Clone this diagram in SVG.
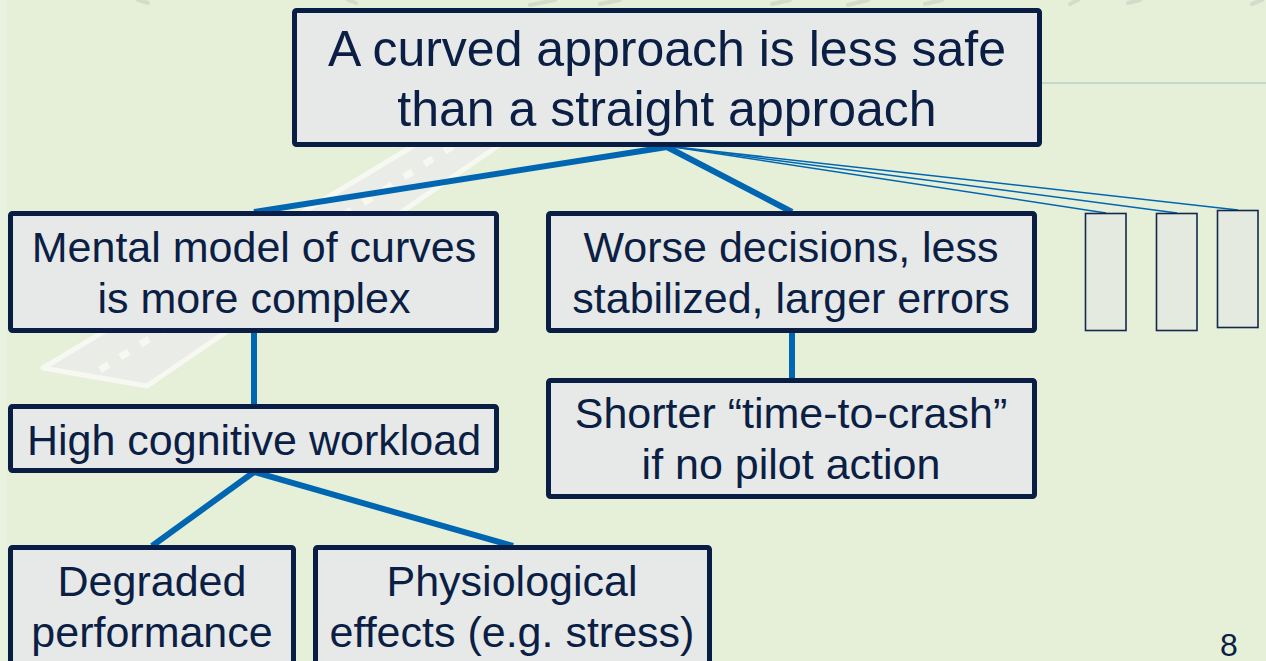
<svg xmlns="http://www.w3.org/2000/svg" width="1266" height="661" viewBox="0 0 1266 661">
  <style>
    .box { fill: #E7E8E8; stroke: #0A1E45; stroke-width: 5; }
    .stub { fill: #E4EADF; stroke: #14284B; stroke-width: 1.6; }
    .label { font-family: "Liberation Sans", Arial, sans-serif; fill: #0B1F45; text-anchor: middle; }
    .big { font-size: 50px; }
    .mid { font-size: 43px; }
    .link { stroke: #0066B2; stroke-width: 6; fill: none; stroke-linecap: butt; }
    .thin { stroke: #0066B2; stroke-width: 1.5; fill: none; }
  </style>

  <!-- slide background -->
  <rect x="0" y="0" width="1266" height="661" fill="#E6F0D9"/>
  <rect x="0" y="0" width="7" height="661" fill="#E9F2DE"/>

  <!-- faint runway artwork -->
  <g opacity="0.8">
    <polygon points="43,368 147,386 653,40 590,40" fill="#ECECEC" stroke="#FAFAF7" stroke-width="5" stroke-linejoin="round"/>
    <line x1="100" y1="370" x2="620" y2="40" stroke="#FAFAF7" stroke-width="7" stroke-dasharray="10 14"/>
  </g>
  <!-- faint marks along the top edge -->
  <g stroke="#C2C8BE" stroke-width="4" stroke-linecap="round" opacity="0.5">
    <line x1="138" y1="0" x2="148" y2="3"/>
    <line x1="348" y1="0" x2="356" y2="3"/>
    <line x1="530" y1="5" x2="555" y2="0"/>
    <line x1="600" y1="4" x2="620" y2="0"/>
    <line x1="772" y1="4" x2="790" y2="0"/>
    <line x1="848" y1="5" x2="868" y2="0"/>
    <line x1="925" y1="4" x2="942" y2="0"/>
    <line x1="1070" y1="4" x2="1078" y2="0"/>
    <line x1="1128" y1="3" x2="1140" y2="0"/>
    <line x1="1252" y1="4" x2="1262" y2="0"/>
  </g>
  <!-- title rule -->
  <line x1="1000" y1="83" x2="1266" y2="83" stroke="#A9BEC4" stroke-width="1"/>

  <!-- connectors -->
  <g id="connectors">
    <line class="link" x1="667" y1="147" x2="254" y2="212"/>
    <line class="link" x1="667" y1="147" x2="792" y2="212"/>
    <line class="link" x1="254" y1="333" x2="254" y2="405"/>
    <line class="link" x1="792" y1="333" x2="792" y2="379"/>
    <line class="link" x1="254" y1="472" x2="152" y2="546"/>
    <line class="link" x1="254" y1="472" x2="513" y2="546"/>
    <line class="thin" x1="667" y1="146" x2="1106" y2="213"/>
    <line class="thin" x1="667" y1="146" x2="1177" y2="213"/>
    <line class="thin" x1="667" y1="146" x2="1238" y2="210"/>
  </g>

  <!-- nodes -->
  <g id="root">
    <rect class="box" x="294.5" y="10.5" width="745" height="134" rx="2"/>
    <text class="label big" x="667" y="66">A curved approach is less safe</text>
    <text class="label big" x="667" y="126">than a straight approach</text>
  </g>

  <g id="mental-model">
    <rect class="box" x="10.5" y="213.5" width="486" height="117" rx="2"/>
    <text class="label mid" x="254" y="262">Mental model of curves</text>
    <text class="label mid" x="254" y="313">is more complex</text>
  </g>

  <g id="worse-decisions">
    <rect class="box" x="548.5" y="213.5" width="486" height="117" rx="2"/>
    <text class="label mid" x="791" y="262">Worse decisions, less</text>
    <text class="label mid" x="791" y="313">stabilized, larger errors</text>
  </g>

  <g id="stub-1">
    <rect class="stub" x="1085.5" y="213.5" width="40.5" height="117"/>
  </g>
  <g id="stub-2">
    <rect class="stub" x="1156.5" y="213.5" width="40.5" height="117"/>
  </g>
  <g id="stub-3">
    <rect class="stub" x="1217.5" y="210.5" width="40.5" height="117"/>
  </g>

  <g id="cognitive-workload">
    <rect class="box" x="10.5" y="406.5" width="486" height="64" rx="2"/>
    <text class="label mid" x="254" y="455">High cognitive workload</text>
  </g>

  <g id="time-to-crash">
    <rect class="box" x="548.5" y="380.5" width="486" height="116" rx="2"/>
    <text class="label mid" x="791" y="428">Shorter “time-to-crash”</text>
    <text class="label mid" x="791" y="479">if no pilot action</text>
  </g>

  <g id="degraded-performance">
    <rect class="box" x="10.5" y="547.5" width="283" height="130" rx="2"/>
    <text class="label mid" x="152" y="596">Degraded</text>
    <text class="label mid" x="152" y="647">performance</text>
  </g>

  <g id="physiological-effects">
    <rect class="box" x="315.5" y="547.5" width="394" height="130" rx="2"/>
    <text class="label mid" x="512" y="596">Physiological</text>
    <text class="label mid" x="512" y="647">effects (e.g. stress)</text>
  </g>

  <!-- page number -->
  <text class="label" x="1229" y="656" font-size="32">8</text>
</svg>
